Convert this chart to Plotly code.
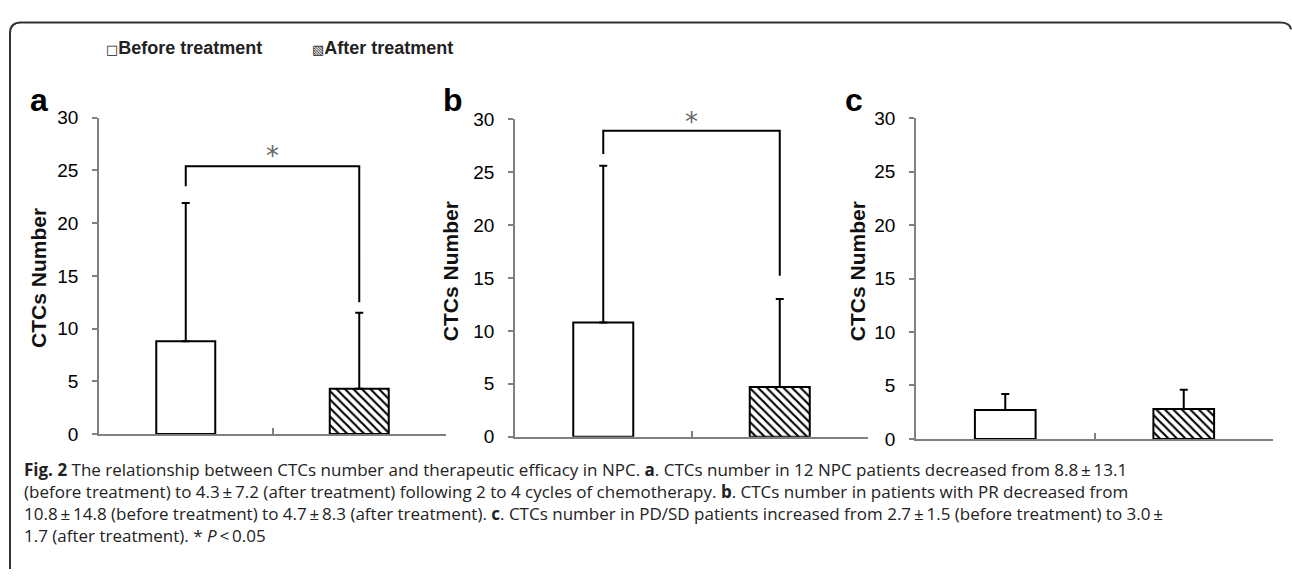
import plotly.graph_objects as go

# ---------------- data ----------------
groups = ["Before treatment", "After treatment"]
panel_labels = ["a", "b", "c"]
before_mean = [8.8, 10.8, 2.7]
after_mean = [4.3, 4.7, 2.8]
before_sd = [13.1, 14.8, 1.5]
after_sd = [7.2, 8.3, 1.8]
# significance brackets (None = no bracket)
bracket_left = [23.5, 26.7, None]
bracket_top = [25.4, 28.9, None]
bracket_right = [12.5, 15.2, None]
star_y = [26.8, 30.2, None]
y_ticks = [0, 5, 10, 15, 20, 25, 30]
y_max = 30
caption_lines = [
    "<b>Fig. 2</b> The relationship between CTCs number and therapeutic efficacy in NPC. <b>a</b>. CTCs number in 12 NPC patients decreased from 8.8\u2009±\u200913.1",
    "(before treatment) to 4.3\u2009±\u20097.2 (after treatment) following 2 to 4 cycles of chemotherapy. <b>b</b>. CTCs number in patients with PR decreased from",
    "10.8\u2009±\u200914.8 (before treatment) to 4.7\u2009±\u20098.3 (after treatment). <b>c</b>. CTCs number in PD/SD patients increased from 2.7\u2009±\u20091.5 (before treatment) to 3.0\u2009±",
    "1.7 (after treatment). * <i>P</i>\u2009<\u20090.05",
]

# ---------------- layout geometry (pixels) ----------------
W, H = 1292, 580
panel_px = [(99, 446, 111.7, 440), (515, 868, 113.3, 442.7), (916, 1273, 112.3, 445)]
title_px = [(39, 278), (450, 271), (857, 271)]
label_px = [(39, 93), (453, 93), (854, 93)]


def px_x(v):
    return v / W


def px_y(v):
    return 1 - v / H


AX = "#808080"
ARIAL = "Liberation Sans, Arial, sans-serif"

fig = go.Figure()
annotations = []
layout_axes = {}

for i in range(3):
    sfx = "" if i == 0 else str(i + 1)
    xa, ya = "x" + sfx, "y" + sfx
    fig.add_trace(go.Bar(
        x=groups, y=[before_mean[i], after_mean[i]],
        xaxis=xa, yaxis=ya, width=0.34,
        marker=dict(color="white", line=dict(color="black", width=2),
                    pattern=dict(shape=["", "\\"], fgcolor="black", bgcolor="white",
                                 size=6, solidity=0.35, fillmode="replace")),
        error_y=dict(type="data", symmetric=False, array=[before_sd[i], after_sd[i]],
                     arrayminus=[0, 0], color="black", thickness=2, width=4),
        showlegend=False, name="CTCs",
    ))
    if bracket_top[i] is not None:
        fig.add_trace(go.Scatter(
            x=[groups[0], groups[0], groups[1], groups[1]],
            y=[bracket_left[i], bracket_top[i], bracket_top[i], bracket_right[i]],
            xaxis=xa, yaxis=ya, mode="lines", line=dict(color="black", width=2),
            showlegend=False, hoverinfo="skip", cliponaxis=False,
        ))
        annotations.append(dict(x=0.5, y=star_y[i] / y_max, xref=xa, yref=ya + " domain",
                                text="*", showarrow=False, yshift=12,
                                font=dict(family="DejaVu Sans", size=26, color="#666")))
    x0, x1, ytop, ybot = panel_px[i]
    layout_axes["xaxis" + sfx] = dict(
        domain=[px_x(x0), px_x(x1)], anchor=ya, range=[-0.5, 1.5],
        showticklabels=False, showline=True, linecolor=AX, linewidth=1.5,
        ticks="inside", tickson="boundaries", ticklen=6, tickcolor=AX, tickwidth=1.5,
        showgrid=False, zeroline=False, fixedrange=True,
    )
    layout_axes["yaxis" + sfx] = dict(
        domain=[px_y(ybot), px_y(ytop)], anchor=xa, range=[0, y_max],
        tickvals=y_ticks, showline=True, linecolor=AX, linewidth=1.5,
        ticks="outside", ticklen=5, tickcolor=AX, tickwidth=1.5,
        ticklabelstandoff=10,
        tickfont=dict(family=ARIAL, size=19, color="#000"),
        showgrid=False, zeroline=False, fixedrange=True,
    )
    tx, ty = title_px[i]
    annotations.append(dict(x=px_x(tx), y=px_y(ty), xref="paper", yref="paper",
                            text="<b>CTCs Number</b>", textangle=-90, showarrow=False,
                            xanchor="center", yanchor="middle",
                            font=dict(family=ARIAL, size=21, color="#111")))
    lx, ly = label_px[i]
    annotations.append(dict(x=px_x(lx), y=px_y(ly), xref="paper", yref="paper",
                            text="<b>" + panel_labels[i] + "</b>", showarrow=False,
                            xanchor="center", yanchor="middle",
                            font=dict(family=ARIAL, size=32, color="#000")))

# legend (as text items)
legend_items = [("\u25a1", groups[0], 104), ("\u25a7", groups[1], 310)]
for sym, name, lx in legend_items:
    annotations.append(dict(
        x=px_x(lx), y=px_y(39), xref="paper", yref="paper", xanchor="left", yanchor="middle",
        text="<span style='font-family:DejaVu Sans;font-size:13px'>" + sym + "</span><b>" + name + "</b>",
        showarrow=False, font=dict(family=ARIAL, size=18, color="#222")))

# caption (one text block)
annotations.append(dict(x=px_x(22), y=px_y(511), xref="paper", yref="paper",
                        xanchor="left", yanchor="middle", align="left",
                        text="<br>".join(caption_lines), showarrow=False,
                        font=dict(family="Open Sans", size=17, color="#222")))

frame_path = "M {a},{b} L {a},{c} Q {a},{d} {e},{d} L {f},{d} Q {g},{d} {h},{i}".format(
    a=px_x(10), b=px_y(580), c=px_y(24), d=px_y(13), e=px_x(21),
    f=px_x(1280), g=px_x(1290), h=px_x(1291), i=px_y(20))

fig.update_layout(
    width=W, height=H, margin=dict(l=0, r=0, t=0, b=0),
    paper_bgcolor="white", plot_bgcolor="white",
    showlegend=False,
    annotations=annotations,
    shapes=[dict(type="path", path=frame_path, xref="paper", yref="paper",
                 line=dict(color="#333", width=2))],
    **layout_axes,
)

fig.write_html("out.html", config={"displayModeBar": False},
               post_script="document.body.style.margin='0';document.body.style.overflow='hidden';")
